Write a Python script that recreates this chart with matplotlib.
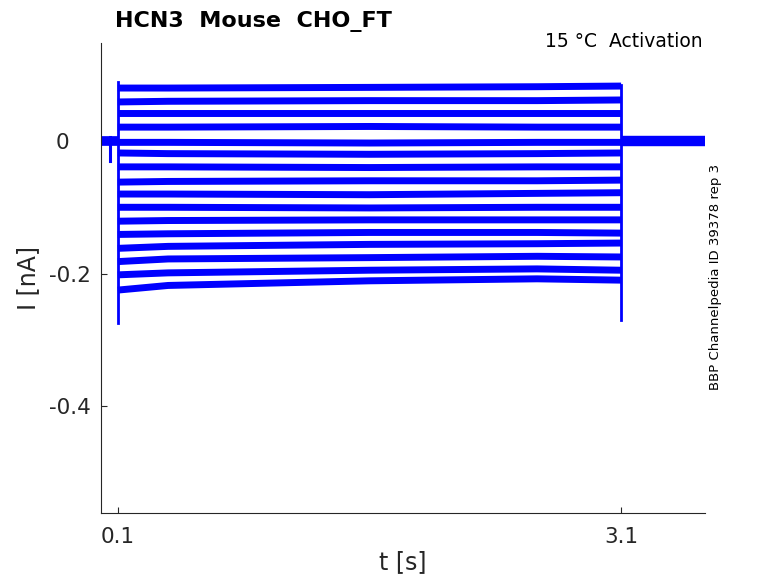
import matplotlib
matplotlib.use('Agg')
import matplotlib.pyplot as plt
from matplotlib.transforms import ScaledTranslation

# ---------------- data ----------------
t_hold_pre = [0.0, 0.1]
i_hold_pre = [0.0, 0.0]
t_hold_post = [3.1, 3.6]
i_hold_post = [0.0, 0.0]
t_artifact = 0.052
i_artifact = [0.006, -0.030]

t_step = [0.1, 0.4, 1.6, 2.6, 3.1]
i_step = [
    [0.080, 0.080, 0.081, 0.082, 0.083],
    [0.059, 0.060, 0.061, 0.061, 0.062],
    [0.042, 0.042, 0.042, 0.042, 0.042],
    [0.021, 0.021, 0.022, 0.021, 0.021],
    [-0.002, -0.002, -0.003, -0.002, -0.002],
    [-0.018, -0.019, -0.020, -0.019, -0.018],
    [-0.039, -0.039, -0.040, -0.039, -0.039],
    [-0.062, -0.061, -0.060, -0.060, -0.059],
    [-0.080, -0.080, -0.081, -0.079, -0.078],
    [-0.100, -0.100, -0.101, -0.100, -0.100],
    [-0.121, -0.120, -0.119, -0.119, -0.119],
    [-0.141, -0.140, -0.138, -0.138, -0.139],
    [-0.162, -0.159, -0.156, -0.155, -0.154],
    [-0.182, -0.178, -0.176, -0.174, -0.175],
    [-0.202, -0.199, -0.195, -0.193, -0.195],
    [-0.225, -0.218, -0.211, -0.208, -0.210],
]
t_onset = 0.1
onset_range = [-0.275, 0.089]
t_offset = 3.1
offset_range = [-0.270, 0.085]

xticks = [0.1, 3.1]
xticklabels = ['0.1', '3.1']
yticks = [-0.4, -0.2, 0.0]
yticklabels = ['-0.4', '-0.2', '0']

title = 'HCN3  Mouse  CHO_FT'
subtitle = '15 °C  Activation'
side_note = 'BBP Channelpedia ID 39378 rep 3'

# ---------------- figure ----------------
W, H = 778, 583
fig = plt.figure(figsize=(W / 100, H / 100), dpi=100)
ax = fig.add_axes([101 / W, 1 - 513 / H, (705 - 101) / W, (513 - 43) / H])

blue = (0, 0, 1)
dark = (0.15, 0.15, 0.15)

ax.plot(t_hold_pre, i_hold_pre, color=blue, lw=7.0, solid_capstyle='butt')
ax.plot(t_hold_post, i_hold_post, color=blue, lw=7.5, solid_capstyle='butt')
ax.plot([t_artifact, t_artifact], i_artifact, color=blue, lw=2.2)
for tr in i_step:
    ax.plot(t_step, tr, color=blue, lw=5.0, solid_capstyle='butt')
ax.plot([t_onset, t_onset], onset_range, color=blue, lw=2.0)
ax.plot([t_offset, t_offset], offset_range, color=blue, lw=2.0)

ax.set_xlim(0, 3.6)
ax.set_ylim(-0.5615, 0.148)

for s in ['top', 'right']:
    ax.spines[s].set_visible(False)
for s in ['left', 'bottom']:
    ax.spines[s].set_color(dark)
    ax.spines[s].set_linewidth(0.8)

ax.set_xticks(xticks)
ax.set_xticklabels(xticklabels)
ax.set_yticks(yticks)
ax.set_yticklabels(yticklabels)
ax.tick_params(direction='in', length=4, width=0.8, colors=dark,
               labelsize=15.5, labelcolor=dark)
ax.tick_params(axis='x', pad=10)
ax.tick_params(axis='y', pad=7)

# the "0" label sits left of right alignment in the reference
for lbl in ax.get_yticklabels():
    if lbl.get_text() == '0':
        lbl.set_transform(lbl.get_transform() +
                          ScaledTranslation(-0.22, 0, fig.dpi_scale_trans))

ax.set_xlabel('t [s]', fontsize=17, color=dark)
ax.set_ylabel('I [nA]', fontsize=17, color=dark)
ax.xaxis.set_label_coords(0.5, -(562 - 513) / (513 - 43))
ax.yaxis.set_label_coords(-(101 - 28) / (705 - 101), 0.5)
ax.xaxis.label.set_va('center')
ax.yaxis.label.set_va('center')

fig.text(115 / W, 1 - 27 / H, title, fontsize=16, fontweight='bold',
         ha='left', va='baseline', color='black')
fig.text(703 / W, 1 - 47 / H, subtitle, fontsize=13.5,
         ha='right', va='baseline', color='black')
fig.text(716 / W, 1 - 277 / H, side_note, fontsize=9.5, rotation=90,
         ha='center', va='center', color='black')

fig.savefig('out.png', dpi=100)
